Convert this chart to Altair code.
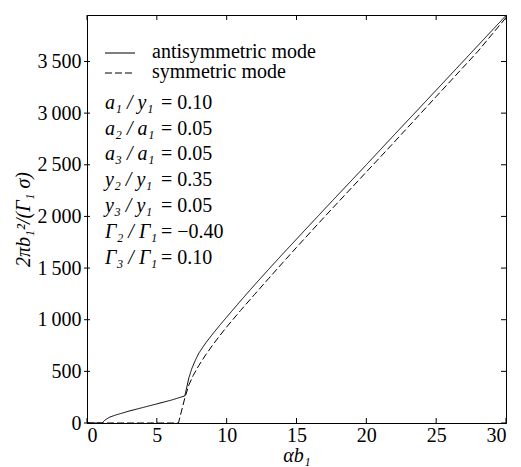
import altair as alt
import pandas as pd

# ---- data ----
anti_x = [0, 1.07, 1.3, 1.6, 2, 3, 4, 5, 6, 7.0, 7.1, 7.3, 7.5, 7.75, 8, 8.5, 9, 9.5, 10,
          11, 12, 13, 14, 15, 17, 20, 22, 25, 28, 30]
anti_y = [0, 0, 30, 55, 75, 115, 150, 185, 220, 262, 320, 440, 525, 605, 675, 775, 862, 945, 1025,
          1183, 1337, 1487, 1635, 1780, 2070, 2500, 2790, 3222, 3656, 3945]
sym_x = [0, 6.55, 7.0, 7.3, 7.6, 8, 8.5, 9, 9.5, 10, 11, 12, 13, 14, 15, 17, 20, 22, 25, 28, 30]
sym_y = [0, 0, 240, 370, 460, 555, 660, 755, 845, 930, 1090, 1245, 1398, 1550, 1700, 1995,
         2430, 2720, 3160, 3600, 3925]

x_ticks = [0, 5, 10, 15, 20, 25, 30]
y_ticks = [0, 500, 1000, 1500, 2000, 2500, 3000, 3500]

modes = ["antisymmetric mode", "symmetric mode"]
param_names = ["a₁ / y₁", "a₂ / a₁", "a₃ / a₁", "y₂ / y₁", "y₃ / y₁", "Γ₂ / Γ₁", "Γ₃ / Γ₁"]
param_values = ["0.10", "0.05", "0.05", "0.35", "0.05", "−0.40", "0.10"]

# ---- layout / style ----
W, H = 419, 408
FONT = "Liberation Serif, Times New Roman, serif"
FS = 20

df = pd.concat([
    pd.DataFrame({"x": anti_x, "y": anti_y, "mode": modes[0]}),
    pd.DataFrame({"x": sym_x, "y": sym_y, "mode": modes[1]}),
])

xs = alt.Scale(domain=[0, 30], nice=False, zero=False)
ys = alt.Scale(domain=[0, 3950], nice=False, zero=False)
dash = alt.Scale(domain=modes, range=[[1, 0], [7, 3]])

lines = alt.Chart(df).mark_line(color="black", strokeWidth=1).encode(
    x=alt.X("x:Q", scale=xs, axis=alt.Axis(values=x_ticks, ticks=False, grid=False,
                                            title="αb₁", titleFontStyle="italic",
                                            labelPadding=2, titlePadding=0)),
    y=alt.Y("y:Q", scale=ys, axis=alt.Axis(values=y_ticks, ticks=False, grid=False,
                                            title="2πb₁²/(Γ₁ σ)", titleFontStyle="italic",
                                            labelPadding=6, titlePadding=3,
                                            labelExpr="replace(format(datum.value, ','), ',', '\u2009')")),
    strokeDash=alt.StrokeDash("mode:N", scale=dash, legend=None),
)

xt = pd.DataFrame({"v": x_ticks})
yt = pd.DataFrame({"v": y_ticks})
tick_style = dict(color="black", strokeWidth=1)
bt = alt.Chart(xt).mark_rule(**tick_style).encode(x=alt.X("v:Q", scale=xs), y=alt.value(H), y2=alt.value(H - 5))
tt = alt.Chart(xt).mark_rule(**tick_style).encode(x=alt.X("v:Q", scale=xs), y=alt.value(0), y2=alt.value(5))
lt = alt.Chart(yt).mark_rule(**tick_style).encode(y=alt.Y("v:Q", scale=ys), x=alt.value(-3), x2=alt.value(3))
rt = alt.Chart(yt).mark_rule(**tick_style).encode(y=alt.Y("v:Q", scale=ys), x=alt.value(W), x2=alt.value(W - 5))

# legend
leg = alt.Chart(pd.DataFrame({"mode": modes})).transform_window(
    i="row_number()"
).transform_calculate(py="18 + 20 * datum.i")
leg_lines = leg.mark_rule(color="black", strokeWidth=1).encode(
    x=alt.value(18), x2=alt.value(48),
    y=alt.Y("py:Q", scale=None, axis=None),
    strokeDash=alt.StrokeDash("mode:N", scale=dash, legend=None),
)
leg_text = leg.mark_text(align="left", baseline="middle", font=FONT, fontSize=FS, color="black", dy=-1).encode(
    x=alt.value(65), y=alt.Y("py:Q", scale=None, axis=None), text="mode:N"
)

params = alt.Chart(pd.DataFrame({"name": param_names, "val": param_values})).transform_window(
    i="row_number()"
).transform_calculate(py="62 + 25.8 * datum.i",
                      valtxt="(datum.i >= 6 ? ' = ' : '= ') + datum.val")
p_names = params.mark_text(align="left", baseline="middle", font=FONT, fontSize=FS,
                           fontStyle="italic", color="black").encode(
    x=alt.value(18), y=alt.Y("py:Q", scale=None, axis=None), text="name:N"
)
p_vals = params.mark_text(align="left", baseline="middle", font=FONT, fontSize=FS, color="black").encode(
    x=alt.value(74), y=alt.Y("py:Q", scale=None, axis=None), text="valtxt:N"
)

chart = alt.layer(lines, bt, tt, lt, rt, leg_lines, leg_text, p_names, p_vals).properties(
    width=W, height=H, background="white"
).configure_view(stroke="black", strokeWidth=1).configure_axis(
    labelFont=FONT, labelFontSize=FS, labelColor="black",
    titleFont=FONT, titleFontSize=FS, titleColor="black", titleFontWeight="normal",
    domainColor="black", domainWidth=1,
)

chart.save("out.html", embed_options={"renderer": "svg", "actions": False})
